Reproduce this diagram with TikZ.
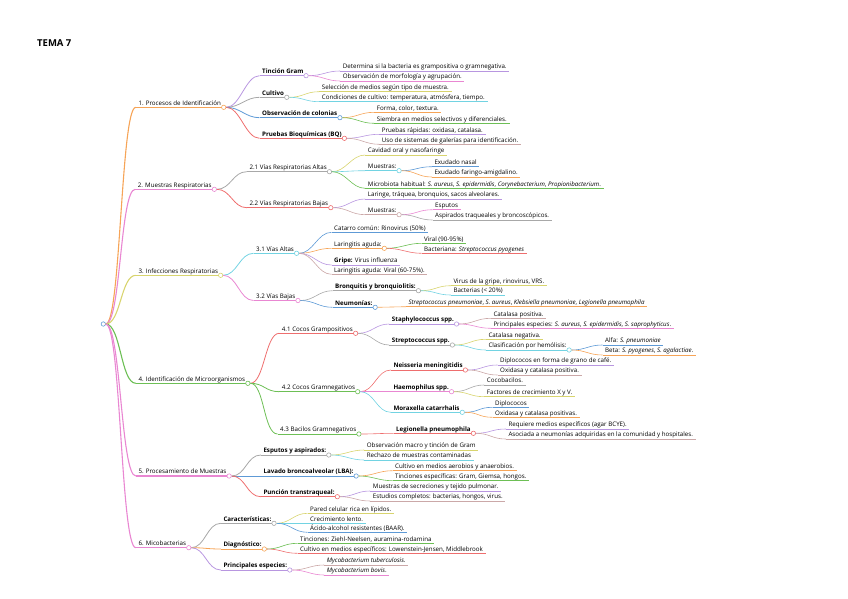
\documentclass[tikz,border=0pt]{standalone}
\usepackage{fontspec}
\setmainfont{Open Sans}
\usepackage{tikz}
\definecolor{mmOrange}{HTML}{F6A457}
\definecolor{mmPink}{HTML}{E987D2}
\definecolor{mmYellow}{HTML}{D8D46E}
\definecolor{mmGreen}{HTML}{6DBF55}
\definecolor{mmPurple}{HTML}{B896E0}
\definecolor{mmGray}{HTML}{A8A8A8}
\definecolor{mmBlue}{HTML}{5E9AD6}
\definecolor{mmRed}{HTML}{EE6E6E}
\definecolor{mmCyan}{HTML}{72D3E2}
\definecolor{mmBrown}{HTML}{CBA8A8}

\begin{document}
\begin{tikzpicture}[x=1pt, y=-1pt,
      every node/.style={font=\fontsize{6.2}{7}\selectfont},
      lbl/.style={anchor=south west, inner xsep=2.5pt, inner ysep=0.7pt, text height=4.6pt, text depth=1.3pt},
      lone/.style={lbl, append after command={(\tikzlastnode.south west) edge[draw=#1, line width=1.1pt] (\tikzlastnode.south east)}},
      ltwo/.style={lbl, append after command={(\tikzlastnode.south west) edge[draw=#1, line width=0.8pt] (\tikzlastnode.south east)}},
      lthree/.style={lbl, append after command={(\tikzlastnode.south west) edge[draw=#1, line width=0.6pt] (\tikzlastnode.south east)}},
      knob/.style={circle, draw=#1, fill=white, inner sep=0pt, minimum size=4.4pt, line width=0.6pt},
      linkone/.style={draw=#1, line width=1.1pt, to path={.. controls +(15,0) and +(-15,0) .. (\tikztotarget)}},
      linktwo/.style={draw=#1, line width=0.8pt, to path={.. controls +(14,0) and +(-14,0) .. (\tikztotarget)}},
      linkthree/.style={draw=#1, line width=0.6pt, to path={.. controls +(14,0) and +(-14,0) .. (\tikztotarget)}}
    ]
      \useasboundingbox (0,0) rectangle (848,599);
      \node[font=\fontsize{9.5}{10}\selectfont\bfseries, anchor=west, inner sep=0pt] (title) at (37,43) {TEMA 7};

      % Root
      \node[knob=mmBlue] (root) at (103.3,324) {};

      % 1. Procesos de Identificacion
      \node[lone=mmOrange] (p1) at (135.8,107.3) {1. Procesos de Identificación};
      \draw[linkone=mmOrange] (root.east) to (p1.south west);
      \node[knob=mmOrange] (p1k) at (p1.south east) {};

      \node[ltwo=mmPurple] (gram) at (259.5,75.7) {\textbf{Tinción Gram}};
      \draw[linktwo=mmPurple] (p1k.east) to (gram.south west);
      \node[knob=mmPurple] (gramk) at (gram.south east) {};
      \node[lthree=mmPurple] (det) at (340.2,71) {Determina si la bacteria es grampositiva o gramnegativa.};
      \draw[linkthree=mmPurple] (gramk.east) to (det.south west);
      \node[lthree=mmPink] (morf) at (340.2,81) {Observación de morfología y agrupación.};
      \draw[linkthree=mmPink] (gramk.east) to (morf.south west);

      \node[ltwo=mmGray] (cult) at (259.5,97.3) {\textbf{Cultivo}};
      \draw[linktwo=mmGray] (p1k.east) to (cult.south west);
      \node[knob=mmGray] (cultk) at (cult.south east) {};
      \node[lthree=mmYellow] (sel) at (319.2,91.7) {Selección de medios según tipo de muestra.};
      \draw[linkthree=mmYellow] (cultk.east) to (sel.south west);
      \node[lthree=mmCyan] (cond) at (319.2,101.7) {Condiciones de cultivo: temperatura, atmósfera, tiempo.};
      \draw[linkthree=mmCyan] (cultk.east) to (cond.south west);

      \node[ltwo=mmBlue] (colo) at (259.5,117.7) {\textbf{Observación de colonias}};
      \draw[linktwo=mmBlue] (p1k.east) to (colo.south west);
      \node[knob=mmBlue] (colok) at (colo.south east) {};
      \node[lthree=mmOrange] (forma) at (374.2,112.3) {Forma, color, textura.};
      \draw[linkthree=mmOrange] (colok.east) to (forma.south west);
      \node[lthree=mmGreen] (siem) at (374.2,123.3) {Siembra en medios selectivos y diferenciales.};
      \draw[linkthree=mmGreen] (colok.east) to (siem.south west);

      \node[ltwo=mmRed] (bioq) at (259.5,138.3) {\textbf{Pruebas Bioquímicas (BQ)}};
      \draw[linktwo=mmRed] (p1k.east) to (bioq.south west);
      \node[knob=mmRed] (bioqk) at (bioq.south east) {};
      \node[lthree=mmPurple] (rap) at (379.2,134.3) {Pruebas rápidas: oxidasa, catalasa.};
      \draw[linkthree=mmPurple] (bioqk.east) to (rap.south west);
      \node[lthree=mmBrown] (gal) at (379.2,144.3) {Uso de sistemas de galerías para identificación.};
      \draw[linkthree=mmBrown] (bioqk.east) to (gal.south west);

      % 2. Muestras Respiratorias
      \node[lone=mmPink] (p2) at (135.2,189.3) {2. Muestras Respiratorias};
      \draw[linkone=mmPink] (root.east) to (p2.south west);
      \node[knob=mmPink] (p2k) at (p2.south east) {};

      \node[ltwo=mmGray] (alt) at (246.8,171.7) {2.1 Vías Respiratorias Altas};
      \draw[linktwo=mmGray] (p2k.east) to (alt.south west);
      \node[knob=mmGray] (altk) at (alt.south east) {};
      \node[lthree=mmYellow] (cav) at (365.2,155) {Cavidad oral y nasofaringe};
      \draw[linkthree=mmYellow] (altk.east) to (cav.south west);
      \node[lthree=mmCyan] (mua) at (365.2,170.7) {Muestras:};
      \draw[linkthree=mmCyan] (altk.east) to (mua.south west);
      \node[knob=mmCyan] (muak) at (mua.south east) {};
      \node[lthree=mmBlue] (exn) at (431.8,166.7) {Exudado nasal};
      \draw[linkthree=mmBlue] (muak.east) to (exn.south west);
      \node[lthree=mmOrange] (exf) at (431.8,177) {Exudado faringo-amigdalino.};
      \draw[linkthree=mmOrange] (muak.east) to (exf.south west);
      \node[lthree=mmGreen] (mic) at (365.2,188.3) {Microbiota habitual: \textit{S. aureus}, \textit{S. epidermidis}, \textit{Corynebacterium}, \textit{Propionibacterium}.};
      \draw[linkthree=mmGreen] (altk.east) to (mic.south west);

      \node[ltwo=mmRed] (baj) at (246.8,207.7) {2.2 Vías Respiratorias Bajas};
      \draw[linktwo=mmRed] (p2k.east) to (baj.south west);
      \node[knob=mmRed] (bajk) at (baj.south east) {};
      \node[lthree=mmPurple] (lar) at (365.2,199) {Laringe, tráquea, bronquios, sacos alveolares.};
      \draw[linkthree=mmPurple] (bajk.east) to (lar.south west);
      \node[lthree=mmBrown] (mub) at (365.2,214.7) {Muestras:};
      \draw[linkthree=mmBrown] (bajk.east) to (mub.south west);
      \node[knob=mmBrown] (mubk) at (mub.south east) {};
      \node[lthree=mmPink] (esp) at (432.5,209.7) {Esputos};
      \draw[linkthree=mmPink] (mubk.east) to (esp.south west);
      \node[lthree=mmGray] (asp) at (432.5,220) {Aspirados traqueales y broncoscópicos.};
      \draw[linkthree=mmGray] (mubk.east) to (asp.south west);

      % 3. Infecciones Respiratorias
      \node[lone=mmYellow] (p3) at (135.8,275.3) {3. Infecciones Respiratorias};
      \draw[linkone=mmYellow] (root.east) to (p3.south west);
      \node[knob=mmYellow] (p3k) at (p3.south east) {};

      \node[ltwo=mmCyan] (va) at (253.5,253.3) {3.1 Vías Altas};
      \draw[linktwo=mmCyan] (p3k.east) to (va.south west);
      \node[knob=mmCyan] (vak) at (va.south east) {};
      \node[lthree=mmBlue] (cat) at (331.5,232.3) {Catarro común: Rinovirus (50\%)};
      \draw[linkthree=mmBlue] (vak.east) to (cat.south west);
      \node[lthree=mmOrange] (lag) at (331.5,248.3) {Laringitis aguda:};
      \draw[linkthree=mmOrange] (vak.east) to (lag.south west);
      \node[knob=mmOrange] (lagk) at (lag.south east) {};
      \node[lthree=mmGreen] (vir) at (421.5,243.3) {Viral (90-95\%)};
      \draw[linkthree=mmGreen] (lagk.east) to (vir.south west);
      \node[lthree=mmRed] (bac) at (421.5,253.3) {Bacteriana: \textit{Streptococcus pyogenes}};
      \draw[linkthree=mmRed] (lagk.east) to (bac.south west);
      \node[lthree=mmPurple] (gri) at (331.5,265) {\textbf{Gripe:} Virus influenza};
      \draw[linkthree=mmPurple] (vak.east) to (gri.south west);
      \node[lthree=mmBrown] (lav) at (331.5,274.3) {Laringitis aguda: Viral (60-75\%).};
      \draw[linkthree=mmBrown] (vak.east) to (lav.south west);

      \node[ltwo=mmPink] (vb) at (253.5,300.5) {3.2 Vías Bajas};
      \draw[linktwo=mmPink] (p3k.east) to (vb.south west);
      \node[knob=mmPink] (vbk) at (vb.south east) {};
      \node[lthree=mmGray] (bro) at (332.5,290.7) {\textbf{Bronquitis y bronquiolitis:}};
      \draw[linkthree=mmGray] (vbk.east) to (bro.south west);
      \node[knob=mmGray] (brok) at (bro.south east) {};
      \node[lthree=mmYellow] (vgr) at (450.8,285.7) {Virus de la gripe, rinovirus, VRS.};
      \draw[linkthree=mmYellow] (brok.east) to (vgr.south west);
      \node[lthree=mmCyan] (bct) at (450.8,295) {Bacterias (< 20\%)};
      \draw[linkthree=mmCyan] (brok.east) to (bct.south west);
      \node[lthree=mmBlue] (neu) at (332.5,307.3) {\textbf{Neumonías:}};
      \draw[linkthree=mmBlue] (vbk.east) to (neu.south west);
      \node[knob=mmBlue] (neuk) at (neu.south east) {};
      \node[lthree=mmOrange] (neuh) at (405.8,306.7) {\textit{Streptococcus pneumoniae}, \textit{S. aureus}, \textit{Klebsiella pneumoniae}, \textit{Legionella pneumophila}};
      \draw[linkthree=mmOrange] (neuk.east) to (neuh.south west);

      % 4. Identificacion de Microorganismos
      \node[lone=mmGreen] (p4) at (135.8,383.3) {4. Identificación de Microorganismos};
      \draw[linkone=mmGreen] (root.east) to (p4.south west);
      \node[knob=mmGreen] (p4k) at (p4.south east) {};

      \node[ltwo=mmRed] (g41) at (279.2,333.3) {4.1 Cocos Grampositivos};
      \draw[linktwo=mmRed] (p4k.east) to (g41.south west);
      \node[knob=mmRed] (g41k) at (g41.south east) {};
      \node[lthree=mmPurple] (sta) at (389.2,324) {\textbf{Staphylococcus spp.}};
      \draw[linkthree=mmPurple] (g41k.east) to (sta.south west);
      \node[knob=mmPurple] (stak) at (sta.south east) {};
      \node[lthree=mmBrown] (capo) at (490.8,318.3) {Catalasa positiva.};
      \draw[linkthree=mmBrown] (stak.east) to (capo.south west);
      \node[lthree=mmPink] (espe) at (490.8,328.3) {Principales especies: \textit{S. aureus}, \textit{S. epidermidis}, \textit{S. saprophyticus}.};
      \draw[linkthree=mmPink] (stak.east) to (espe.south west);
      \node[lthree=mmGray] (stre) at (389.2,345) {\textbf{Streptococcus spp.}};
      \draw[linkthree=mmGray] (g41k.east) to (stre.south west);
      \node[knob=mmGray] (strek) at (stre.south east) {};
      \node[lthree=mmYellow] (cane) at (485.8,339.3) {Catalasa negativa.};
      \draw[linkthree=mmYellow] (strek.east) to (cane.south west);
      \node[lthree=mmCyan] (hem) at (485.8,350) {Clasificación por hemólisis:};
      \draw[linkthree=mmCyan] (strek.east) to (hem.south west);
      \node[knob=mmCyan] (hemk) at (hem.south east) {};
      \node[lthree=mmBlue] (alfa) at (602.5,345) {Alfa: \textit{S. pneumoniae}};
      \draw[linkthree=mmBlue] (hemk.east) to (alfa.south west);
      \node[lthree=mmOrange] (beta) at (602.5,355) {Beta: \textit{S. pyogenes}, \textit{S. agalactiae}.};
      \draw[linkthree=mmOrange] (hemk.east) to (beta.south west);

      \node[ltwo=mmGreen] (g42) at (279.2,391.7) {4.2 Cocos Gramnegativos};
      \draw[linktwo=mmGreen] (p4k.east) to (g42.south west);
      \node[knob=mmGreen] (g42k) at (g42.south east) {};
      \node[lthree=mmRed] (nei) at (390.8,370) {\textbf{Neisseria meningitidis}};
      \draw[linkthree=mmRed] (g42k.east) to (nei.south west);
      \node[knob=mmRed] (neik) at (nei.south east) {};
      \node[lthree=mmPurple] (dip) at (497.5,365) {Diplococos en forma de grano de café.};
      \draw[linkthree=mmPurple] (neik.east) to (dip.south west);
      \node[lthree=mmBrown] (oxc) at (497.5,375) {Oxidasa y catalasa positiva.};
      \draw[linkthree=mmBrown] (neik.east) to (oxc.south west);
      \node[lthree=mmPink] (hae) at (390.8,391.7) {\textbf{Haemophilus spp.}};
      \draw[linkthree=mmPink] (g42k.east) to (hae.south west);
      \node[knob=mmPink] (haek) at (hae.south east) {};
      \node[lthree=mmGray] (coc) at (484.2,385) {Cocobacilos.};
      \draw[linkthree=mmGray] (haek.east) to (coc.south west);
      \node[lthree=mmYellow] (fac) at (484.2,396.7) {Factores de crecimiento X y V.};
      \draw[linkthree=mmYellow] (haek.east) to (fac.south west);
      \node[lthree=mmCyan] (mor) at (390.8,412.3) {\textbf{Moraxella catarrhalis}};
      \draw[linkthree=mmCyan] (g42k.east) to (mor.south west);
      \node[knob=mmCyan] (mork) at (mor.south east) {};
      \node[lthree=mmBlue] (dpl) at (492.5,407.3) {Diplococos};
      \draw[linkthree=mmBlue] (mork.east) to (dpl.south west);
      \node[lthree=mmOrange] (oxp) at (492.5,417.3) {Oxidasa y catalasa positivas.};
      \draw[linkthree=mmOrange] (mork.east) to (oxp.south west);

      \node[ltwo=mmGreen] (g43) at (277.5,434) {4.3 Bacilos Gramnegativos};
      \draw[linktwo=mmGreen] (p4k.east) to (g43.south west);
      \node[knob=mmGreen] (g43k) at (g43.south east) {};
      \node[lthree=mmRed] (leg) at (393.5,433.3) {\textbf{Legionella pneumophila}};
      \draw[linkthree=mmRed] (g43k.east) to (leg.south west);
      \node[knob=mmRed] (legk) at (leg.south east) {};
      \node[lthree=mmPurple] (req) at (505.8,429) {Requiere medios específicos (agar BCYE).};
      \draw[linkthree=mmPurple] (legk.east) to (req.south west);
      \node[lthree=mmBrown] (aso) at (505.8,439) {Asociada a neumonías adquiridas en la comunidad y hospitales.};
      \draw[linkthree=mmBrown] (legk.east) to (aso.south west);

      % 5. Procesamiento de Muestras
      \node[lone=mmPink] (p5) at (135.8,476) {5. Procesamiento de Muestras};
      \draw[linkone=mmPink] (root.east) to (p5.south west);
      \node[knob=mmPink] (p5k) at (p5.south east) {};

      \node[ltwo=mmGray] (esa) at (260.8,455) {\textbf{Esputos y aspirados:}};
      \draw[linktwo=mmGray] (p5k.east) to (esa.south west);
      \node[knob=mmGray] (esak) at (esa.south east) {};
      \node[lthree=mmYellow] (obm) at (364.2,450) {Observación macro y tinción de Gram};
      \draw[linkthree=mmYellow] (esak.east) to (obm.south west);
      \node[lthree=mmCyan] (rec) at (364.2,460) {Rechazo de muestras contaminadas};
      \draw[linkthree=mmCyan] (esak.east) to (rec.south west);

      \node[ltwo=mmBlue] (lba) at (260.8,476) {\textbf{Lavado broncoalveolar (LBA):}};
      \draw[linktwo=mmBlue] (p5k.east) to (lba.south west);
      \node[knob=mmBlue] (lbak) at (lba.south east) {};
      \node[lthree=mmOrange] (cae) at (392.5,470.7) {Cultivo en medios aerobios y anaerobios.};
      \draw[linkthree=mmOrange] (lbak.east) to (cae.south west);
      \node[lthree=mmGreen] (tin) at (392.5,480.7) {Tinciones específicas: Gram, Giemsa, hongos.};
      \draw[linkthree=mmGreen] (lbak.east) to (tin.south west);

      \node[ltwo=mmRed] (pun) at (260.8,496.7) {\textbf{Punción transtraqueal:}};
      \draw[linktwo=mmRed] (p5k.east) to (pun.south west);
      \node[knob=mmRed] (punk) at (pun.south east) {};
      \node[lthree=mmPurple] (mse) at (370.2,491) {Muestras de secreciones y tejido pulmonar.};
      \draw[linkthree=mmPurple] (punk.east) to (mse.south west);
      \node[lthree=mmBrown] (est) at (370.2,501) {Estudios completos: bacterias, hongos, virus.};
      \draw[linkthree=mmBrown] (punk.east) to (est.south west);

      % 6. Micobacterias
      \node[lone=mmPink] (p6) at (135.8,547.7) {6. Micobacterias};
      \draw[linkone=mmPink] (root.east) to (p6.south west);
      \node[knob=mmPink] (p6k) at (p6.south east) {};

      \node[ltwo=mmGray] (car) at (220.8,523.3) {\textbf{Características:}};
      \draw[linktwo=mmGray] (p6k.east) to (car.south west);
      \node[knob=mmGray] (cark) at (car.south east) {};
      \node[lthree=mmYellow] (par) at (307.5,513.3) {Pared celular rica en lípidos.};
      \draw[linkthree=mmYellow] (cark.east) to (par.south west);
      \node[lthree=mmCyan] (cre) at (307.5,523.3) {Crecimiento lento.};
      \draw[linkthree=mmCyan] (cark.east) to (cre.south west);
      \node[lthree=mmBlue] (aci) at (307.5,532.3) {Ácido-alcohol resistentes (BAAR).};
      \draw[linkthree=mmBlue] (cark.east) to (aci.south west);

      \node[ltwo=mmOrange] (dia) at (220.8,549) {\textbf{Diagnóstico:}};
      \draw[linktwo=mmOrange] (p6k.east) to (dia.south west);
      \node[knob=mmOrange] (diak) at (dia.south east) {};
      \node[lthree=mmGreen] (tzn) at (297.5,543.3) {Tinciones: Ziehl-Neelsen, auramina-rodamina};
      \draw[linkthree=mmGreen] (diak.east) to (tzn.south west);
      \node[lthree=mmRed] (cme) at (297.5,553.3) {Cultivo en medios específicos: Lowenstein-Jensen, Middlebrook};
      \draw[linkthree=mmRed] (diak.east) to (cme.south west);

      \node[ltwo=mmPurple] (pri) at (220.8,570) {\textbf{Principales especies:}};
      \draw[linktwo=mmPurple] (p6k.east) to (pri.south west);
      \node[knob=mmPurple] (prik) at (pri.south east) {};
      \node[lthree=mmBrown] (mtb) at (324.2,565) {\textit{Mycobacterium tuberculosis}.};
      \draw[linkthree=mmBrown] (prik.east) to (mtb.south west);
      \node[lthree=mmPink] (mbo) at (324.2,575) {\textit{Mycobacterium bovis}.};
      \draw[linkthree=mmPink] (prik.east) to (mbo.south west);
    \end{tikzpicture}
\end{document}
